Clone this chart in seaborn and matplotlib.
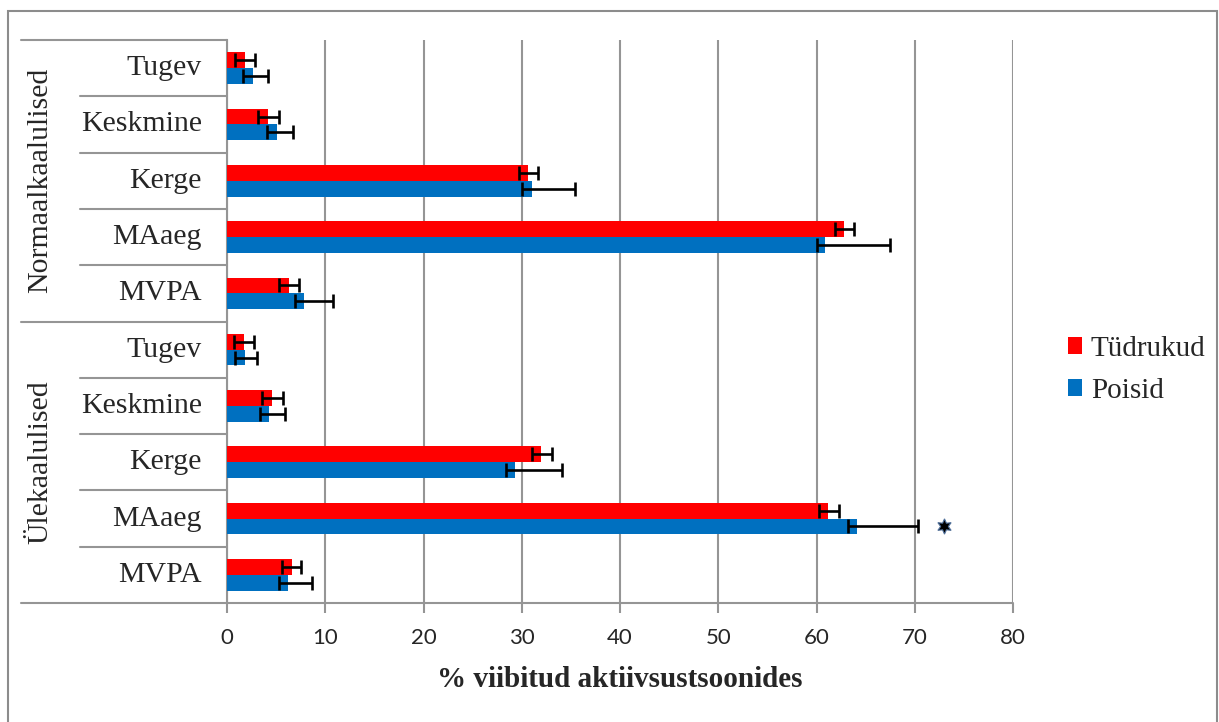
import matplotlib
matplotlib.use("Agg")
import matplotlib.pyplot as plt
from matplotlib.patches import Rectangle, Patch
import numpy as np
import pandas as pd
import seaborn as sns

# --- data -------------------------------------------------------------
groups = ["Normaalkaalulised", "Ülekaalulised"]
activities = ["Tugev", "Keskmine", "Kerge", "MAaeg", "MVPA"]
series = ["Tüdrukud", "Poisid"]

# mean % of time (top to bottom: Normaalkaalulised then Ülekaalulised)
girls = [1.8, 4.2, 30.6, 62.8, 6.3, 1.7, 4.6, 32.0, 61.2, 6.6]
boys = [2.6, 5.1, 31.0, 60.9, 7.8, 1.8, 4.3, 29.3, 64.1, 6.2]

# error bar extents (below / above the mean)
girls_err_lo = [1.0, 1.0, 0.9, 0.9, 1.0, 1.0, 1.0, 1.0, 0.9, 1.0]
girls_err_hi = [1.0, 1.05, 1.1, 1.0, 1.0, 1.05, 1.05, 1.1, 1.1, 0.95]
boys_err_lo = [1.0, 1.0, 1.0, 0.9, 0.9, 1.0, 0.95, 0.9, 0.9, 0.9]
boys_err_hi = [1.6, 1.65, 4.4, 6.6, 3.0, 1.25, 1.6, 4.8, 6.2, 2.45]

# significance marker
star_x = 73.0
star_row = 8  # Ülekaalulised / MAaeg, Poisid

x_ticks = [0, 10, 20, 30, 40, 50, 60, 70, 80]
x_label = "% viibitud aktiivsustsoonides"

colors = {"Tüdrukud": "#FF0000", "Poisid": "#0070C0"}

# --- table --------------------------------------------------------------
rows = [f"{g}|{a}" for g in groups for a in activities]
df = pd.DataFrame({
    "row": rows * 2,
    "value": girls + boys,
    "sex": [series[0]] * len(rows) + [series[1]] * len(rows),
})

# --- figure -----------------------------------------------------------
W, H = 1219, 722
sns.set_theme(style="white")
plt.rcParams["font.family"] = ["Liberation Serif", "DejaVu Serif"]

fig = plt.figure(figsize=(W / 100, H / 100), dpi=100)
fig.patch.set_facecolor("white")

x0, x1 = 227, 1013
y0, y1 = 40, 603
ax = fig.add_axes([x0 / W, 1 - y1 / H, (x1 - x0) / W, (y1 - y0) / H])

sns.barplot(data=df, y="row", x="value", hue="sex", order=rows,
            hue_order=series, palette=colors, orient="h", width=0.56,
            saturation=1, ax=ax, legend=False, errorbar=None,
            linewidth=0, zorder=3)

# error bars from bar geometry
errs = {series[0]: (girls_err_lo, girls_err_hi),
        series[1]: (boys_err_lo, boys_err_hi)}
for cont, name in zip(ax.containers, series):
    xs = np.array([b.get_width() for b in cont])
    ys = np.array([b.get_y() + b.get_height() / 2 for b in cont])
    lo, hi = errs[name]
    ax.errorbar(xs, ys, xerr=[lo, hi], fmt="none", ecolor="black",
                elinewidth=1.9, capsize=5.2, capthick=1.9, zorder=4)

# star on the significant bar
boy_bars = ax.containers[1]
sb = boy_bars[star_row]
ax.plot([star_x], [sb.get_y() + sb.get_height() / 2], marker=(6, 1, 0),
        markersize=11, color="black", markeredgecolor="#4f6f9a",
        markeredgewidth=0.8, linestyle="none", zorder=5, clip_on=False)

grid_c = "#959595"
ax.set_xlim(0, 80)
ax.set_ylim(len(rows) - 0.5, -0.5)
ax.set_xticks(x_ticks)
ax.set_xticklabels([str(t) for t in x_ticks], fontfamily="Lato", fontsize=16)
ax.xaxis.grid(True, color=grid_c, linewidth=1.5, zorder=0)
ax.yaxis.grid(False)
ax.tick_params(axis="x", length=7, width=1.5, color=grid_c, pad=11,
               bottom=True)
ax.tick_params(axis="y", length=0)
ax.set_yticks(range(len(rows)))
ax.set_yticklabels([])
ax.set_ylabel("")
ax.set_xlabel(x_label, fontsize=21, fontweight="bold", labelpad=13)

for s in ["top", "right"]:
    ax.spines[s].set_visible(False)
ax.spines["left"].set_color(grid_c)
ax.spines["left"].set_linewidth(1.5)
ax.spines["bottom"].set_visible(False)

# category table on the left
ytr = ax.get_yaxis_transform()
xa_outer = (21 - x0) / (x1 - x0)
xa_inner = (80 - x0) / (x1 - x0)
n_act = len(activities)
for k in range(len(rows) + 1):
    yb = k - 0.5
    start = xa_outer if k % n_act == 0 else xa_inner
    end = 1.0 if k == len(rows) else 0.0
    ax.plot([start, end], [yb, yb], color=grid_c, linewidth=1.5,
            transform=ytr, clip_on=False, zorder=2)

lab_x = (202 - x0) / (x1 - x0)
for i, r in enumerate(rows):
    ax.text(lab_x, i, r.split("|")[1], transform=ytr, ha="right",
            va="center", fontsize=21.5)

grp_x = (40 - x0) / (x1 - x0)
for gi, g in enumerate(groups):
    yc = gi * n_act + (n_act - 1) / 2
    ax.text(grp_x, yc, g, transform=ytr, ha="center", va="center",
            rotation=90, fontsize=21.5)

# legend
handles = [Patch(facecolor=colors[s], edgecolor="none", label=s) for s in series]
fig.legend(handles=handles, loc="center left",
           bbox_to_anchor=(1053 / W, 1 - 370 / H), frameon=False,
           fontsize=21, handlelength=0.5, handleheight=0.5,
           handletextpad=0.3, labelspacing=0.55, borderpad=0)

# chart border
fig.add_artist(Rectangle((8 / W, -0.05), (1217 - 8) / W, 1.05 - 11 / H,
                         transform=fig.transFigure, fill=False,
                         edgecolor="#8c8c8c", linewidth=1.5))

fig.savefig("out.png", dpi=100, facecolor="white")
